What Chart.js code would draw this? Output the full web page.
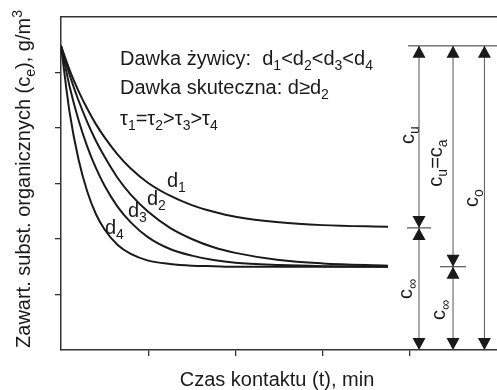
<!DOCTYPE html>
<html>
<head>
<meta charset="utf-8">
<script src="https://cdn.jsdelivr.net/npm/chart.js@4.4.0/dist/chart.umd.min.js"></script>
<style>
  html, body { margin: 0; padding: 0; background: #fff; }
</style>
</head>
<body>
<canvas id="kinetyka" width="497" height="390"></canvas>
<script>
// Kinetyka sorpcji - odczyt z wykresu (1 jednostka = jedna podziałka osi)
const czas = [0, 0.1, 0.2, 0.3, 0.4, 0.5, 0.65, 0.8, 1.0, 1.25, 1.5, 1.75, 2.0, 2.5, 3.0, 3.75];
const d1 = [5.48, 5.04, 4.67, 4.35, 4.07, 3.83, 3.52, 3.27, 3.01, 2.78, 2.61, 2.49, 2.40, 2.30, 2.25, 2.22];
const d2 = [5.48, 4.95, 4.50, 4.11, 3.77, 3.48, 3.10, 2.80, 2.49, 2.20, 2.00, 1.85, 1.75, 1.62, 1.56, 1.52];
const d3 = [5.48, 4.74, 4.15, 3.67, 3.28, 2.96, 2.58, 2.30, 2.03, 1.82, 1.70, 1.62, 1.57, 1.53, 1.51, 1.50];
const d4 = [5.48, 4.27, 3.44, 2.86, 2.45, 2.17, 1.89, 1.73, 1.61, 1.55, 1.52, 1.51, 1.50, 1.50, 1.50, 1.50];
const seriesNames = ["1", "2", "3", "4"];

const xTicks = [1, 2, 3, 4];
const yTicks = [1, 2, 3, 4, 5];

// poziomy na strzałkach: c0, c∞ dla d1, c∞ dla d2..d4
const c0 = 5.48;
const cInf = [2.2, 1.5];
const arrowX = [4.1, 4.49, 4.85];

const FONT = "'Liberation Sans', Arial, sans-serif";
const INK = "#1a1a1a";

function fontFor(kind, size) {
  const s = kind === "n" ? size : Math.round(size * 0.7);
  return s + "px " + FONT;
}

function richWidth(ctx, parts, size) {
  let w = 0;
  for (const [t, k] of parts) {
    ctx.font = fontFor(k, size);
    w += ctx.measureText(t).width;
  }
  return w;
}

function drawRich(ctx, parts, x, y, size, align) {
  let cx = align === "center" ? x - richWidth(ctx, parts, size) / 2 : x;
  ctx.textAlign = "left";
  ctx.textBaseline = "alphabetic";
  for (const [t, k] of parts) {
    ctx.font = fontFor(k, size);
    const dy = k === "sub" ? size * 0.27 : k === "sup" ? -size * 0.42 : 0;
    ctx.fillText(t, cx, y + dy);
    cx += ctx.measureText(t).width;
  }
}

function drawRotated(ctx, parts, x, y, size) {
  ctx.save();
  ctx.translate(x, y);
  ctx.rotate(-Math.PI / 2);
  drawRich(ctx, parts, 0, 0, size, "center");
  ctx.restore();
}

function head(ctx, x, tipY, up) {
  const h = 12, w = 6.5;
  const base = up ? tipY + h : tipY - h;
  ctx.beginPath();
  ctx.moveTo(x, tipY);
  ctx.lineTo(x - w, base);
  ctx.lineTo(x + w, base);
  ctx.closePath();
  ctx.fill();
}

const adnotacje = {
  id: "adnotacje",
  afterDraw(chart) {
    const { ctx } = chart;
    const xs = chart.scales.x, ys = chart.scales.y;
    const area = chart.chartArea;
    ctx.save();
    ctx.fillStyle = INK;

    // tytuły osi
    drawRotated(ctx, [["Zawart. subst. organicznych (c", "n"], ["e", "sub"], "), g/m".split("|").map(t => [t, "n"])[0], ["3", "sup"]], 30, 179, 20);
    drawRich(ctx, [["Czas kontaktu (t), min", "n"]], 277, 386, 20, "center");

    // opis w polu wykresu
    drawRich(ctx, [["Dawka żywicy:  d", "n"], ["1", "sub"], ["<d", "n"], ["2", "sub"], ["<d", "n"], ["3", "sub"], ["<d", "n"], ["4", "sub"]], 120, 65, 20);
    drawRich(ctx, [["Dawka skuteczna: d≥d", "n"], ["2", "sub"]], 120, 94, 20);
    drawRich(ctx, [["τ", "n"], ["1", "sub"], ["=τ", "n"], ["2", "sub"], [">τ", "n"], ["3", "sub"], [">τ", "n"], ["4", "sub"]], 120, 125, 20);

    // etykiety krzywych
    const labelPos = [[167, 187], [147, 205], [128, 217], [105, 234]];
    seriesNames.forEach((n, i) => drawRich(ctx, [["d", "n"], [n, "sub"]], labelPos[i][0], labelPos[i][1], 20));

    // strzałki wymiarowe
    const yTop = ys.getPixelForValue(c0);
    const yBot = ys.getPixelForValue(0);
    const yMid = cInf.map(v => ys.getPixelForValue(v));
    const px = arrowX.map(v => xs.getPixelForValue(v));

    ctx.strokeStyle = "#333";
    ctx.lineWidth = 1;
    ctx.beginPath();
    ctx.moveTo(xs.getPixelForValue(3.98), yTop);
    ctx.lineTo(area.right, yTop);
    ctx.stroke();

    ctx.strokeStyle = "#555";
    px.forEach(x => {
      ctx.beginPath();
      ctx.moveTo(x + 0.5, yTop);
      ctx.lineTo(x + 0.5, yBot);
      ctx.stroke();
      head(ctx, x + 0.5, yTop, true);
      head(ctx, x + 0.5, yBot, false);
    });
    yMid.forEach((y, i) => {
      const x = px[i] + 0.5, half = i === 0 ? 12 : 13;
      ctx.strokeStyle = "#333";
      ctx.beginPath();
      ctx.moveTo(x - half, y);
      ctx.lineTo(x + half, y);
      ctx.stroke();
      head(ctx, x, y, false);
      head(ctx, x, y, true);
    });

    drawRotated(ctx, [["c", "n"], ["u", "sub"]], 414, 135, 20);
    drawRotated(ctx, [["c", "n"], ["u", "sub"], ["=c", "n"], ["a", "sub"]], 442, 163, 20);
    drawRotated(ctx, [["c", "n"], ["o", "sub"]], 478, 198, 20);
    drawRotated(ctx, [["c", "n"], ["∞", "sub"]], 412, 289, 20);
    drawRotated(ctx, [["c", "n"], ["∞", "sub"]], 445, 310, 20);

    ctx.restore();
  }
};

const seria = [d1, d2, d3, d4];

new Chart(document.getElementById("kinetyka"), {
  type: "line",
  data: {
    datasets: seria.map((s, i) => ({
      label: "d" + seriesNames[i],
      data: czas.map((t, j) => ({ x: t, y: s[j] })),
      borderColor: INK,
      borderWidth: 2,
      pointRadius: 0,
      fill: false,
      cubicInterpolationMode: "monotone"
    }))
  },
  options: {
    responsive: false,
    animation: false,
    devicePixelRatio: 1,
    layout: { padding: { top: 17, right: 0, left: 0, bottom: 0 } },
    plugins: { legend: { display: false }, tooltip: { enabled: false } },
    scales: {
      x: {
        type: "linear",
        min: 0,
        max: 5,
        afterBuildTicks: s => { s.ticks = xTicks.map(v => ({ value: v })); },
        afterFit: s => { s.height = 40; },
        ticks: { display: false },
        grid: { drawOnChartArea: false, tickLength: 6, color: "#333", lineWidth: 1.3 },
        border: { color: "#333", width: 1.5 }
      },
      xTop: {
        type: "linear",
        position: "top",
        min: 0,
        max: 5,
        display: true,
        afterFit: s => { s.height = 0; },
        ticks: { display: false },
        grid: { display: false, drawTicks: false },
        border: { color: "#333", width: 1.5 }
      },
      y: {
        min: 0,
        max: 6,
        afterBuildTicks: s => { s.ticks = yTicks.map(v => ({ value: v })); },
        afterFit: s => { s.width = 61; },
        ticks: { display: false },
        grid: { drawOnChartArea: false, tickLength: 6, color: "#333", lineWidth: 1.3 },
        border: { color: "#333", width: 1.5 }
      }
    }
  },
  plugins: [adnotacje]
});
</script>
</body>
</html>
